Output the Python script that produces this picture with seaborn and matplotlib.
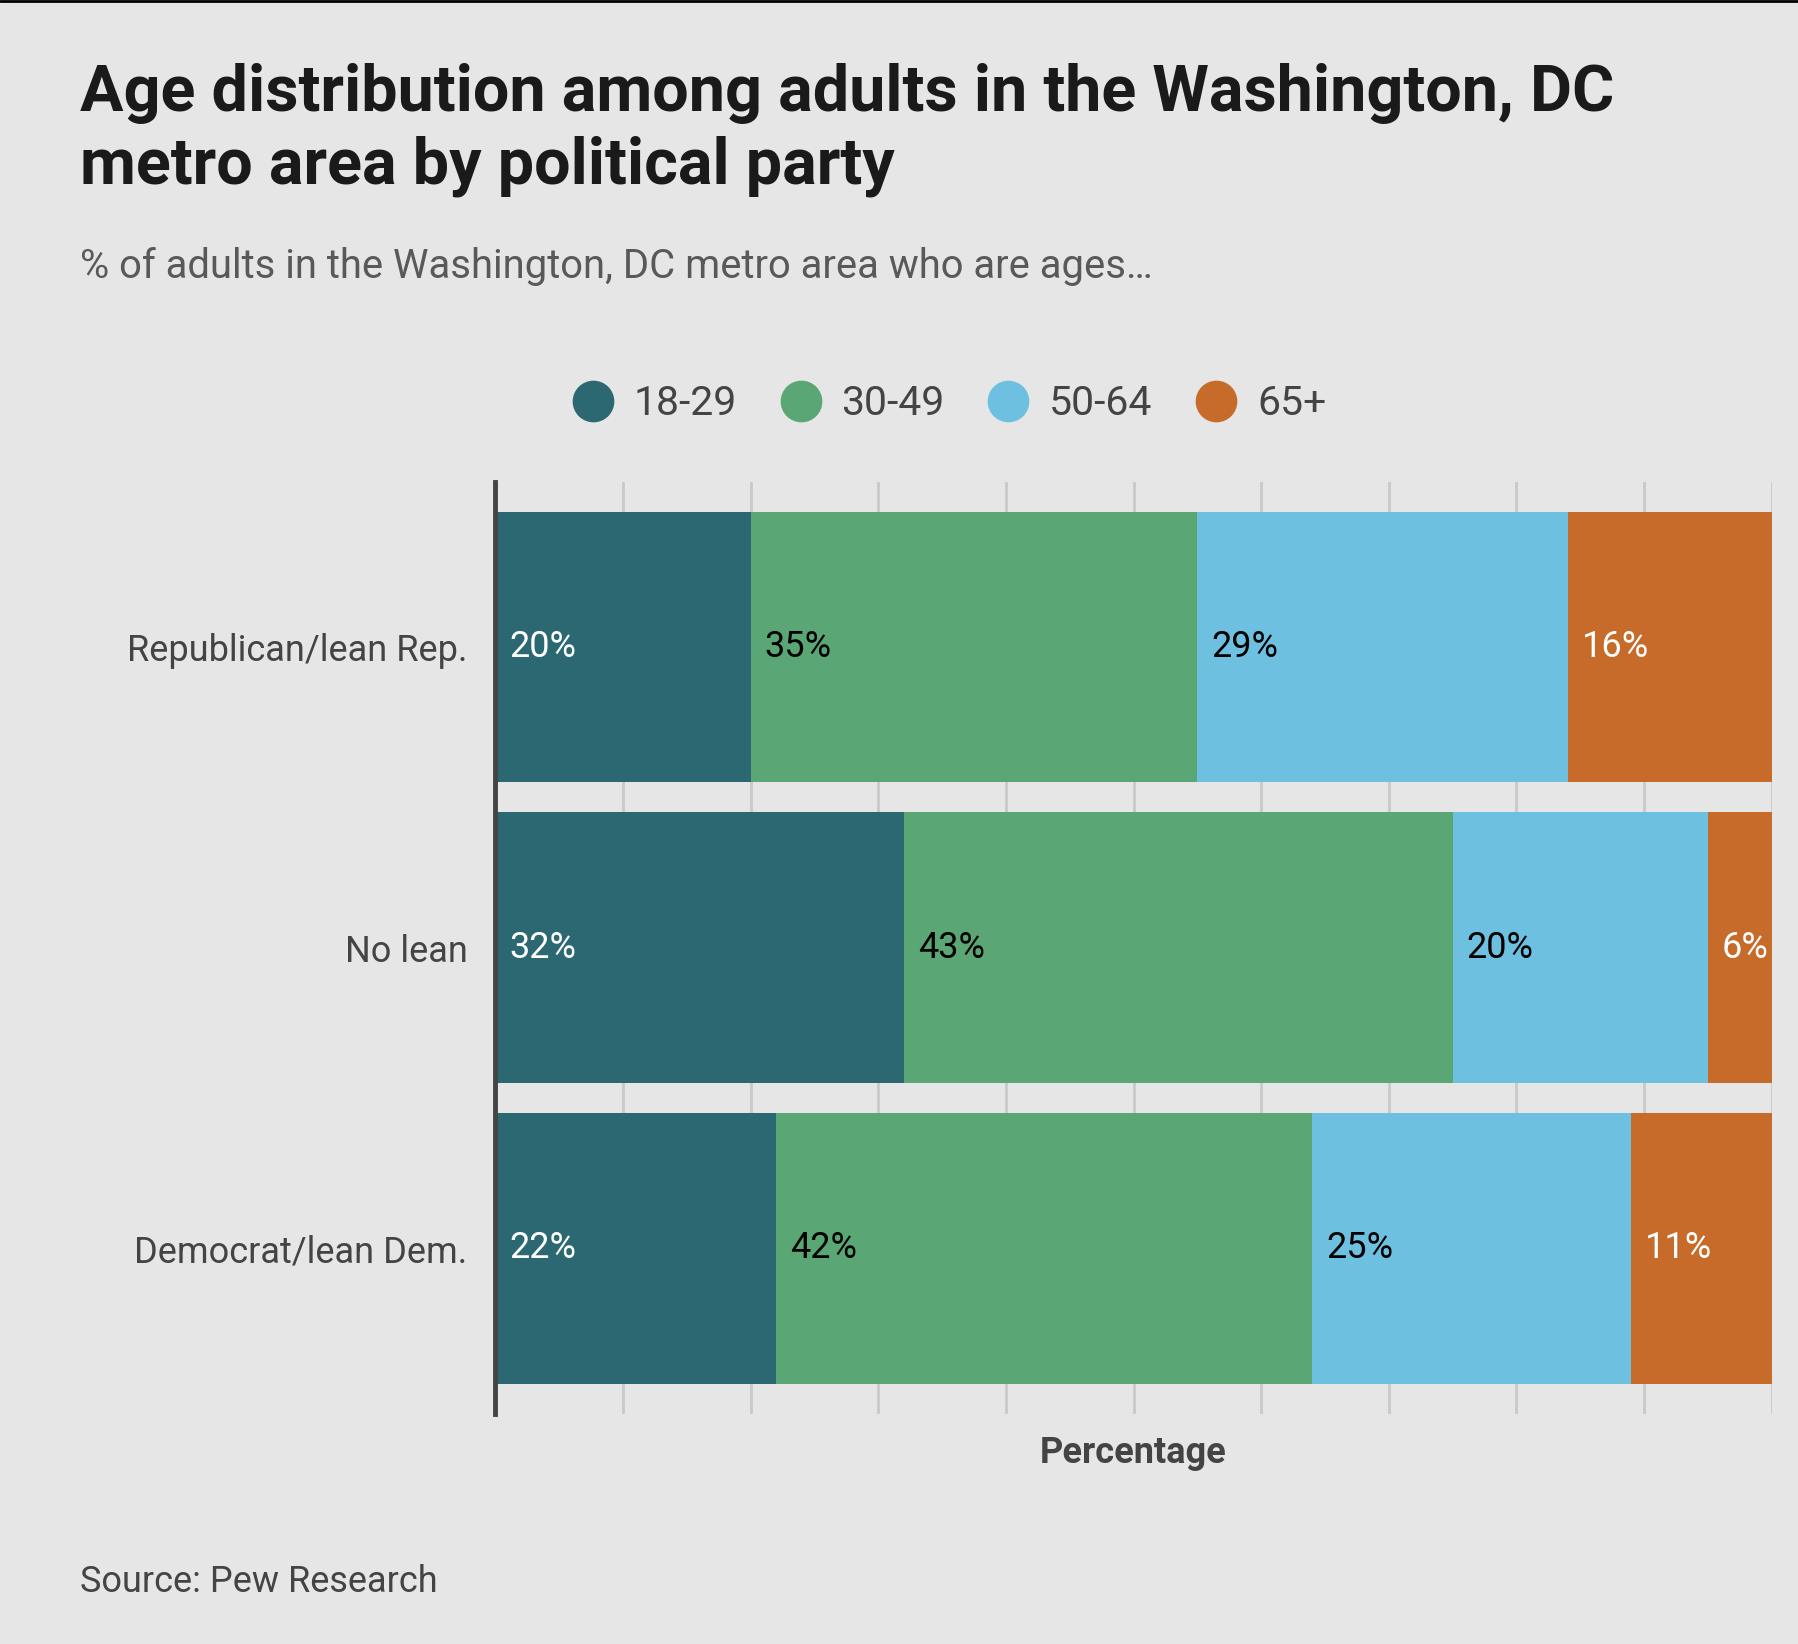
"""
Age distribution among adults in the Washington, DC metro area by party
"""

import numpy as np
import pandas as pd
import seaborn as sns
import matplotlib.pyplot as plt
from matplotlib.lines import Line2D

# --- data ---
parties = ['Republican/lean Rep.', 'No lean', 'Democrat/lean Dem.']
age_groups = ['18-29', '30-49', '50-64', '65+']
age_18_29 = [20, 32, 22]
age_30_49 = [35, 43, 42]
age_50_64 = [29, 20, 25]
age_65_plus = [16, 6, 11]

colors = ['#2b6872', '#5aa674', '#6ec0e1', '#c76b2a']
label_colors = ['white', 'black', 'black', 'white']

bg = '#e6e6e6'

df = pd.DataFrame({'party': parties, '18-29': age_18_29, '30-49': age_30_49,
                   '50-64': age_50_64, '65+': age_65_plus})
cum = df[age_groups].cumsum(axis=1)

sns.set_theme(style='white')
plt.rcParams['font.family'] = ['Roboto', 'DejaVu Sans']

fig = plt.figure(figsize=(17.98, 16.44), dpi=100, facecolor=bg)
ax = fig.add_axes([0.2755, 0.1400, 0.7099, 0.5671])
ax.set_facecolor(bg)

# grid lines behind the bars
for gx in range(0, 101, 10):
    ax.axvline(gx, color='#c9c9c9', lw=2, zorder=0)

# stacked bars: draw cumulative totals from the widest down
for i in range(len(age_groups) - 1, -1, -1):
    sns.barplot(x=cum[age_groups[i]].values, y=df['party'], orient='h',
                color=colors[i], width=0.9, saturation=1, ax=ax, zorder=2,
                linewidth=0)

# value labels
for i, grp in enumerate(age_groups):
    starts = cum[grp] - df[grp]
    for j, (s, v) in enumerate(zip(starts, df[grp])):
        ax.text(s + 1.1, j, f'{v}%', ha='left', va='center',
                color=label_colors[i], fontsize=26, zorder=3)

ax.set_xlim(0, 100)
ax.set_ylim(2.55, -0.55)
ax.set_xticks([])
ax.set_ylabel('')
ax.set_xlabel('Percentage', fontsize=26, fontweight='bold', color='#444444',
              labelpad=15)
ax.tick_params(axis='y', length=0, pad=20, labelsize=26, labelcolor='#444444')
for side in ['top', 'right', 'bottom']:
    ax.spines[side].set_visible(False)
ax.spines['left'].set_color('#444444')
ax.spines['left'].set_linewidth(3.5)
ax.spines['left'].set_zorder(4)

# legend
handles = [Line2D([0], [0], marker='o', linestyle='', markersize=29,
                  markerfacecolor=c, markeredgecolor=c) for c in colors]
fig.legend(handles, age_groups, loc='center', bbox_to_anchor=(0.528, 0.7545),
           ncol=4, frameon=False, fontsize=29.5, labelcolor='#444444',
           handlelength=1.0, handletextpad=0.5, columnspacing=1.05)

# titles
fig.text(0.0446, 0.9324, 'Age distribution among adults in the Washington, DC',
         fontsize=46.5, fontweight='bold', color='#1a1a1a')
fig.text(0.0446, 0.8884, 'metro area by political party',
         fontsize=46.5, fontweight='bold', color='#1a1a1a')
fig.text(0.0446, 0.8312, '% of adults in the Washington, DC metro area who are ages…',
         fontsize=28.8, color='#595959')
fig.text(0.0446, 0.0319, 'Source: Pew Research', fontsize=26, color='#444444')

fig.add_artist(Line2D([0, 1], [0.9995, 0.9995], color='black', lw=2))

plt.savefig('out.png', dpi=100, facecolor=bg)
